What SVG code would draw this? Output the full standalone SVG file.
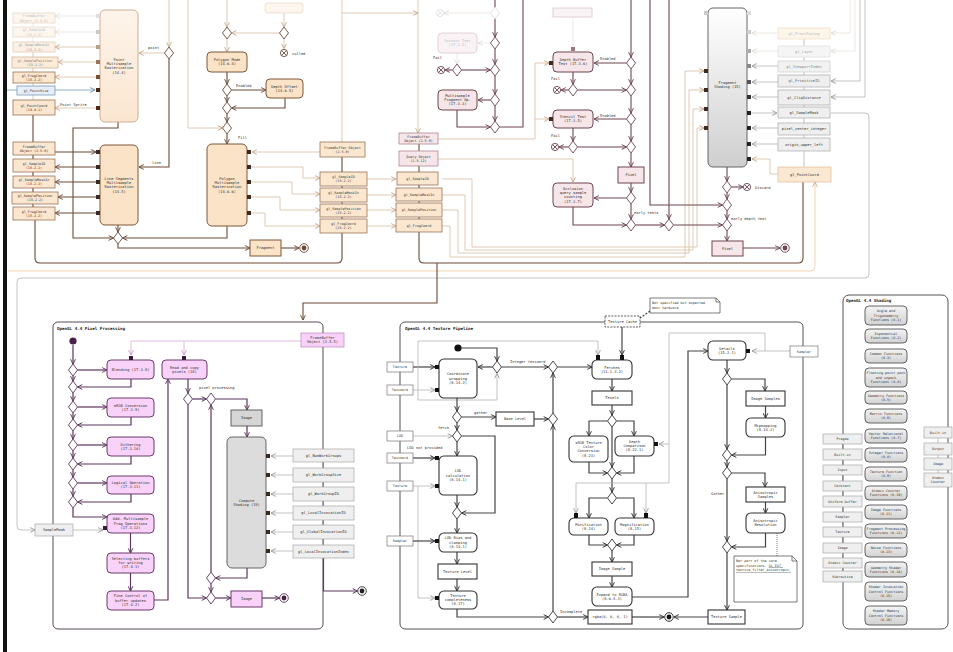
<svg xmlns="http://www.w3.org/2000/svg" width="953" height="652" viewBox="0 0 953 652">
<style>
text{font-family:"DejaVu Sans Mono","Liberation Mono",monospace;font-size:3.7px;fill:#333}
.c{text-anchor:middle}
.t{font-weight:bold;font-size:4.2px;fill:#222}
.s{font-size:3.4px}
.fd{fill:#bbb}
.ob{fill:#fbe7d0;stroke:#9c7455;stroke-width:.8}
.oa{fill:#fbe3c8;stroke:#7e5638;stroke-width:1}
.of{fill:#fdf6ee;stroke:#e6d5c4;stroke-width:.7}
.pb{fill:#f6e6ea;stroke:#6e4550;stroke-width:1}
.pf{fill:#faf3f5;stroke:#dcc6cc;stroke-width:.8}
.vb{fill:#f8d2f8;stroke:#6a3d6a;stroke-width:1}
.kb{fill:#fff;stroke:#333;stroke-width:1.1}
.gb{fill:#efefef;stroke:#a8a8a8;stroke-width:.7}
.sb{fill:url(#gs);stroke:#555;stroke-width:.9}
.bb{fill:#e6eef7;stroke:#7a9ab8;stroke-width:.8}
.br{fill:none;stroke:#6b4a36;stroke-width:1.1}
.lt{fill:none;stroke:#d6bca2;stroke-width:.8}
.ft{fill:none;stroke:#e8ddd2;stroke-width:.7}
.pk{fill:none;stroke:#6e4550;stroke-width:1.1}
.vi{fill:none;stroke:#5c365c;stroke-width:1.2}
.lp{fill:none;stroke:#d8aad8;stroke-width:.8}
.bk{fill:none;stroke:#444;stroke-width:1.2}
.gy{fill:none;stroke:#b4b4b4;stroke-width:.8}
.bl{fill:none;stroke:#7a9ab8;stroke-width:.8}
.pin{fill:#3a2a22}
.dbr{fill:#fff;stroke:#6b4a36;stroke-width:.9}
.dpk{fill:#fff;stroke:#6e4550;stroke-width:.9}
.dvi{fill:#fff;stroke:#5c365c;stroke-width:.9}
.dbk{fill:#fff;stroke:#333;stroke-width:.9}
.dft{fill:#fff;stroke:#ddd;stroke-width:.8}
</style>
<defs>
<linearGradient id="gs" x1="0" y1="0" x2="0" y2="1"><stop offset="0" stop-color="#f4f4f4"/><stop offset="1" stop-color="#d2d2d2"/></linearGradient>
<linearGradient id="gf" x1="0" y1="0" x2="0" y2="1"><stop offset="0" stop-color="#ffffff"/><stop offset="1" stop-color="#cfcfcf"/></linearGradient>
<linearGradient id="gp" x1="0" y1="0" x2="0" y2="1"><stop offset="0" stop-color="#fdf4ea"/><stop offset="1" stop-color="#fbe6d0"/></linearGradient>
<marker id="m-br" viewBox="0 0 10 10" refX="9" refY="5" markerWidth="6" markerHeight="6" markerUnits="userSpaceOnUse" orient="auto"><path d="M1,1 L9,5 L1,9" fill="none" stroke="#6b4a36" stroke-width="1.6"/></marker>
<marker id="m-lt" viewBox="0 0 10 10" refX="9" refY="5" markerWidth="6" markerHeight="6" markerUnits="userSpaceOnUse" orient="auto"><path d="M1,1 L9,5 L1,9" fill="none" stroke="#c4a688" stroke-width="1.5"/></marker>
<marker id="m-ft" viewBox="0 0 10 10" refX="9" refY="5" markerWidth="6" markerHeight="6" markerUnits="userSpaceOnUse" orient="auto"><path d="M1,1 L9,5 L1,9" fill="none" stroke="#ddd" stroke-width="1.5"/></marker>
<marker id="m-pk" viewBox="0 0 10 10" refX="9" refY="5" markerWidth="6" markerHeight="6" markerUnits="userSpaceOnUse" orient="auto"><path d="M1,1 L9,5 L1,9" fill="none" stroke="#6e4550" stroke-width="1.6"/></marker>
<marker id="m-vi" viewBox="0 0 10 10" refX="9" refY="5" markerWidth="6" markerHeight="6" markerUnits="userSpaceOnUse" orient="auto"><path d="M1,1 L9,5 L1,9" fill="none" stroke="#5c365c" stroke-width="1.6"/></marker>
<marker id="m-lp" viewBox="0 0 10 10" refX="9" refY="5" markerWidth="6" markerHeight="6" markerUnits="userSpaceOnUse" orient="auto"><path d="M1,1 L9,5 L1,9" fill="none" stroke="#c890c8" stroke-width="1.5"/></marker>
<marker id="m-bk" viewBox="0 0 10 10" refX="9" refY="5" markerWidth="6" markerHeight="6" markerUnits="userSpaceOnUse" orient="auto"><path d="M1,1 L9,5 L1,9" fill="none" stroke="#333" stroke-width="1.6"/></marker>
<marker id="m-gy" viewBox="0 0 10 10" refX="9" refY="5" markerWidth="6" markerHeight="6" markerUnits="userSpaceOnUse" orient="auto"><path d="M1,1 L9,5 L1,9" fill="none" stroke="#999" stroke-width="1.5"/></marker>
<marker id="m-bl" viewBox="0 0 10 10" refX="9" refY="5" markerWidth="6" markerHeight="6" markerUnits="userSpaceOnUse" orient="auto"><path d="M1,1 L9,5 L1,9" fill="none" stroke="#6a8aa8" stroke-width="1.5"/></marker>
<path id="dm" d="M0,-6 L4.5,0 L0,6 L-4.5,0Z"/>
<g id="xn"><circle r="3.6" fill="#fff"/><path d="M-2.5,-2.5 L2.5,2.5 M2.5,-2.5 L-2.5,2.5"/></g>
<g id="fn"><circle r="4.3" fill="#fff"/><circle r="2.4" stroke="none"/></g>
</defs>
<rect x="0" y="0" width="953" height="652" fill="#fff"/>
<rect x="3" y="0" width="4" height="652" fill="#111"/>

<g id="connectors">
<!-- frame lines -->
<path class="gy" d="M831,113 H865 Q869,113 869,117 V274 Q869,278 865,278 H21 Q17,278 17,282 V526 Q17,530 21,530 H35" marker-end="url(#m-gy)"/>
<path fill="none" stroke="#f0c9a0" stroke-width=".8" d="M8,271 H811 Q815,271 815,267 V182" marker-end="url(#m-lt)"/>
<!-- top-left -->
<path class="ft" d="M96,16 H55" marker-end="url(#m-ft)"/>
<path class="ft" d="M96,32 H55" marker-end="url(#m-ft)"/>
<path class="lt" d="M96,47 H55" marker-end="url(#m-lt)"/>
<path class="lt" d="M96,62 H58" marker-end="url(#m-lt)"/>
<path class="lt" d="M96,77 H55" marker-end="url(#m-lt)"/>
<path class="bl" d="M55,90 H95" marker-end="url(#m-bl)"/>
<path class="bl" d="M7,90 H17"/>
<path class="lt" d="M96,108 H55" marker-end="url(#m-lt)"/>
<path class="ft" d="M33,23 V27 M33,37 V42"/>
<path class="lt" d="M33,52 V57 M33,68 V72 M33,83 V86 M33,95 V100"/>
<path class="br" d="M33,115 V142 M33,155 V159 M33,172 V176 M33,188 V192 M33,204 V207"/>
<path class="lt" d="M169,0 V47" marker-end="url(#m-lt)"/>
<path class="lt" d="M164.5,53 H139" marker-end="url(#m-lt)"/>
<path class="br" d="M169,59 V167 H139" marker-end="url(#m-br)"/>
<path class="br" d="M118,122 V128 H73 V238 H113.5" marker-end="url(#m-br)"/>
<path class="br" d="M118,225 V232" marker-end="url(#m-br)"/>
<path class="br" d="M227,226 V238 H122.5" marker-end="url(#m-br)"/>
<path class="br" d="M118,244 V248 H250" marker-end="url(#m-br)"/>
<path class="br" d="M281,248 H299" marker-end="url(#m-br)"/>
<path class="br" d="M55,152 H96" marker-end="url(#m-br)"/>
<path class="br" d="M96,167 H55" marker-end="url(#m-br)"/>
<path class="br" d="M96,182 H55" marker-end="url(#m-br)"/>
<path class="br" d="M96,197 H58" marker-end="url(#m-br)"/>
<path class="br" d="M96,213 H55" marker-end="url(#m-br)"/>
<path class="br" d="M35,220 V258 Q35,263 40,263 H337 Q342,263 342,258 V233"/>
<path class="br" d="M342,157 V172 M342,186 V188 M342,202 V204 M342,217 V219"/>
<!-- polygon -->
<path class="lt" d="M227,0 V27" marker-end="url(#m-lt)"/>
<path class="lt" d="M227,39 V52" marker-end="url(#m-lt)"/>
<path class="lt" d="M284,13 V27" marker-end="url(#m-lt)"/>
<path class="lt" d="M279.5,33 H231.5" marker-end="url(#m-lt)"/>
<path class="lt" d="M284,39 V48.5" marker-end="url(#m-lt)"/>
<path class="br" d="M227,72 V84" marker-end="url(#m-br)"/>
<path class="br" d="M231.5,90 H266" marker-end="url(#m-br)"/>
<path class="br" d="M227,96 V102" marker-end="url(#m-br)"/>
<path class="br" d="M285,98 V108 H231.5" marker-end="url(#m-br)"/>
<path class="br" d="M227,114 V122" marker-end="url(#m-br)"/>
<path class="lt" d="M188,0 V128 H222.5" marker-end="url(#m-lt)"/>
<path class="br" d="M227,134 V144" marker-end="url(#m-br)"/>
<path class="lt" d="M320,152 H252" marker-end="url(#m-lt)"/>
<path class="lt" d="M251,167 H303 V178 H320" marker-end="url(#m-lt)"/>
<path class="lt" d="M251,182 H292 V194 H320" marker-end="url(#m-lt)"/>
<path class="lt" d="M251,197 H280 V210 H320" marker-end="url(#m-lt)"/>
<path class="lt" d="M251,213 H265 V226 H320" marker-end="url(#m-lt)"/>
<!-- middle columns -->
<path class="lt" d="M342,0 V142"/>
<path class="lt" d="M342,13 H418" marker-end="url(#m-lt)"/>
<path class="lt" d="M418,0 V133" marker-end="url(#m-lt)"/>
<path class="lt" d="M367,179 H396" marker-end="url(#m-lt)"/>
<path class="lt" d="M367,195 H396" marker-end="url(#m-lt)"/>
<path class="lt" d="M367,210 H396" marker-end="url(#m-lt)"/>
<path class="lt" d="M367,226 H396" marker-end="url(#m-lt)"/>
<path class="br" d="M419,144 V151 M419,166 V172 M419,185 V188 M419,201 V203 M419,217 V219"/>
<path class="br" d="M419,232 V258 Q419,263 424,263 H798 Q803,263 803,258 V182"/>
<path class="br" d="M437,263 V303 H303 V320" marker-end="url(#m-br)"/>
<path class="lt" d="M442,179 H472 V247 H697 V128 H704" marker-end="url(#m-lt)"/>
<path class="lt" d="M442,195 H465 V250 H693 V109 H704" marker-end="url(#m-lt)"/>
<path class="lt" d="M442,210 H458 V253 H689 V90 H704" marker-end="url(#m-lt)"/>
<path class="lt" d="M442,226 H450 V257 H685 V71 H704" marker-end="url(#m-lt)"/>
<!-- tests -->
<path class="ft" d="M490.5,13 H444" marker-end="url(#m-ft)"/>
<path class="pk" d="M495,0 V37" marker-end="url(#m-pk)"/>
<path class="pk" d="M495,49 V64" marker-end="url(#m-pk)"/>
<path class="pk" d="M495,76 V94" marker-end="url(#m-pk)"/>
<path class="pk" d="M495,106 V121" marker-end="url(#m-pk)"/>
<path class="ft" d="M490.5,43 H478" marker-end="url(#m-ft)"/>
<path class="ft" d="M457,53 V64" marker-end="url(#m-ft)"/>
<path class="pk" d="M452.5,70 H445" marker-end="url(#m-pk)"/>
<path class="pk" d="M461.5,70 H490.5" marker-end="url(#m-pk)"/>
<path class="pk" d="M490.5,100 H478" marker-end="url(#m-pk)"/>
<path class="pk" d="M457,110 V127 H490.5" marker-end="url(#m-pk)"/>
<path class="pk" d="M499.5,127 H523 V0"/>
<path class="ft" d="M573,17 V48"/>
<path class="lt" d="M438,139 H535 V63 H549" marker-end="url(#m-lt)"/>
<path class="lt" d="M535,119 H549" marker-end="url(#m-lt)"/>
<path class="lt" d="M438,159 H573 V182" marker-end="url(#m-lt)"/>
<path class="pk" d="M631,0 V57" marker-end="url(#m-pk)"/>
<path class="pk" d="M626.5,63 H594" marker-end="url(#m-pk)"/>
<path class="pk" d="M631,69 V84" marker-end="url(#m-pk)"/>
<path class="pk" d="M573,72 V84" marker-end="url(#m-pk)"/>
<path class="pk" d="M568.5,90 H561" marker-end="url(#m-pk)"/>
<path class="pk" d="M577.5,90 H626.5" marker-end="url(#m-pk)"/>
<path class="pk" d="M631,96 V113" marker-end="url(#m-pk)"/>
<path class="pk" d="M626.5,119 H594" marker-end="url(#m-pk)"/>
<path class="pk" d="M631,125 V141" marker-end="url(#m-pk)"/>
<path class="pk" d="M573,128 V141" marker-end="url(#m-pk)"/>
<path class="pk" d="M568.5,147 H559" marker-end="url(#m-pk)"/>
<path class="pk" d="M577.5,147 H626.5" marker-end="url(#m-pk)"/>
<path class="pk" d="M631,153 V167" marker-end="url(#m-pk)"/>
<path class="pk" d="M631,183 V192" marker-end="url(#m-pk)"/>
<path class="pk" d="M626.5,198 H594" marker-end="url(#m-pk)"/>
<path class="pk" d="M573,207 V225 H626.5" marker-end="url(#m-pk)"/>
<path class="pk" d="M631,204 V219" marker-end="url(#m-pk)"/>
<path class="pk" d="M635.5,225 H664.5" marker-end="url(#m-pk)"/>
<path class="pk" d="M669,0 V219" marker-end="url(#m-pk)"/>
<path class="pk" d="M673.5,225 H722.5" marker-end="url(#m-pk)"/>
<path class="pk" d="M650,0 V205 H722.5" marker-end="url(#m-pk)"/>
<!-- fragment shading -->
<path class="pk" d="M727,167 V181" marker-end="url(#m-pk)"/>
<path class="pk" d="M731.5,187 H743" marker-end="url(#m-pk)"/>
<path class="pk" d="M727,193 V199" marker-end="url(#m-pk)"/>
<path class="pk" d="M727,211 V219" marker-end="url(#m-pk)"/>
<path class="pk" d="M727,231 V241" marker-end="url(#m-pk)"/>
<path class="pk" d="M743,248 H780" marker-end="url(#m-pk)"/>
<path class="ft" d="M778,33 H752" marker-end="url(#m-ft)"/>
<path class="ft" d="M778,51 H752" marker-end="url(#m-ft)"/>
<path class="gy" d="M778,66 H752" marker-end="url(#m-gy)"/>
<path class="gy" d="M778,82 H752" marker-end="url(#m-gy)"/>
<path class="gy" d="M778,97 H752" marker-end="url(#m-gy)"/>
<path class="gy" d="M751,113 H777" marker-end="url(#m-gy)"/>
<path class="gy" d="M778,128 H752" marker-end="url(#m-gy)"/>
<path class="gy" d="M778,144 H752" marker-end="url(#m-gy)"/>
<path class="lt" d="M778,174 H770 V159 H752" marker-end="url(#m-lt)"/>
<path class="ft" d="M850,0 V33 H831" marker-end="url(#m-ft)"/>
<path class="ft" d="M855,0 V51 H831" marker-end="url(#m-ft)"/>
<path class="gy" d="M860,0 V81 H831" marker-end="url(#m-gy)"/>
<path class="gy" d="M865,0 V97 H831" marker-end="url(#m-gy)"/>
<path class="gy" d="M804,39 V46 M804,57 V61 M804,72 V75 M804,87 V90 M804,105 V107 M804,118 V123 M804,135 V138 M804,151 V167"/>
<!-- pixel processing -->
<path class="vi" d="M73,345 V364" marker-end="url(#m-vi)"/>
<path class="vi" d="M77.5,370 H107" marker-end="url(#m-vi)"/>
<path class="vi" d="M73,376 V381" marker-end="url(#m-vi)"/>
<path class="vi" d="M131,379 V387 H77.5" marker-end="url(#m-vi)"/>
<path class="vi" d="M73,393 V401" marker-end="url(#m-vi)"/>
<path class="vi" d="M77.5,407 H107" marker-end="url(#m-vi)"/>
<path class="vi" d="M73,413 V419" marker-end="url(#m-vi)"/>
<path class="vi" d="M131,417 V425 H77.5" marker-end="url(#m-vi)"/>
<path class="vi" d="M73,431 V439" marker-end="url(#m-vi)"/>
<path class="vi" d="M77.5,445 H107" marker-end="url(#m-vi)"/>
<path class="vi" d="M73,451 V458" marker-end="url(#m-vi)"/>
<path class="vi" d="M131,456 V464 H77.5" marker-end="url(#m-vi)"/>
<path class="vi" d="M73,470 V477" marker-end="url(#m-vi)"/>
<path class="vi" d="M77.5,483 H107" marker-end="url(#m-vi)"/>
<path class="vi" d="M73,489 V496" marker-end="url(#m-vi)"/>
<path class="vi" d="M131,494 V502 H77.5" marker-end="url(#m-vi)"/>
<path class="vi" d="M73,508 V517 H107" marker-end="url(#m-vi)"/>
<path class="vi" d="M130.5,533 V553" marker-end="url(#m-vi)"/>
<path class="vi" d="M130.5,573 V591" marker-end="url(#m-vi)"/>
<path class="vi" d="M154,600 H168 V379" marker-end="url(#m-vi)"/>
<path class="lp" d="M301,341 H131 V355" marker-end="url(#m-lp)"/>
<path class="lp" d="M184,341 V355" marker-end="url(#m-lp)"/>
<path class="gy" d="M73,530 H103" marker-end="url(#m-gy)"/>
<path class="vi" d="M188,379 V393" marker-end="url(#m-vi)"/>
<path class="vi" d="M192.5,399 H206.5" marker-end="url(#m-vi)"/>
<path class="vi" d="M215.5,399 H247 V410" marker-end="url(#m-vi)"/>
<path class="vi" d="M247,426 V437" marker-end="url(#m-vi)"/>
<path class="vi" d="M247,568 V578 H215.5" marker-end="url(#m-vi)"/>
<path class="vi" d="M211,572 V405" marker-end="url(#m-vi)"/>
<path class="vi" d="M211,584 V592" marker-end="url(#m-vi)"/>
<path class="vi" d="M188,405 V598 H206.5" marker-end="url(#m-vi)"/>
<path class="vi" d="M215.5,598 H231" marker-end="url(#m-vi)"/>
<path class="vi" d="M262,598 H279.5" marker-end="url(#m-vi)"/>
<path class="gy" d="M293,456 H271" marker-end="url(#m-gy)"/>
<path class="gy" d="M293,475 H271" marker-end="url(#m-gy)"/>
<path class="gy" d="M293,494 H271" marker-end="url(#m-gy)"/>
<path class="gy" d="M293,513 H271" marker-end="url(#m-gy)"/>
<path class="gy" d="M293,532 H271" marker-end="url(#m-gy)"/>
<path class="gy" d="M293,551 H271" marker-end="url(#m-gy)"/>
<path class="gy" d="M323.5,462 V468 M323.5,482 V487 M323.5,501 V506 M323.5,520 V525 M323.5,539 V545"/>
<path class="vi" d="M323.5,558 V591 H357.5" marker-end="url(#m-vi)"/>
<!-- texture pipeline -->
<path class="bk" stroke-dasharray="2,1.5" d="M650,311 L640,318"/>
<path class="bk" d="M461.5,348 H497 V361" marker-end="url(#m-bk)"/>
<path class="bk" d="M492.5,367 H478" marker-end="url(#m-bk)"/>
<path class="bk" d="M501.5,367 H548.5" marker-end="url(#m-bk)"/>
<path class="bk" d="M557.5,367 H592" marker-end="url(#m-bk)"/>
<path class="bk" d="M413,367 H435" marker-end="url(#m-bk)"/>
<path class="gy" d="M413,390 H435" marker-end="url(#m-gy)"/>
<path class="gy" d="M418,367 V341 H598 V355" marker-end="url(#m-gy)"/>
<path class="gy" d="M418,367 V400 H497 V373.5" marker-end="url(#m-gy)"/>
<path class="bk" d="M622,327 V355" marker-end="url(#m-bk)"/>
<path class="bk" d="M457,398 V411" marker-end="url(#m-bk)"/>
<path class="bk" d="M461.5,417 H496" marker-end="url(#m-bk)"/>
<path class="bk" d="M534,419 H548.5" marker-end="url(#m-bk)"/>
<path class="bk" d="M457,423 V430" marker-end="url(#m-bk)"/>
<path class="gy" d="M413,436 H452.5" marker-end="url(#m-gy)"/>
<path class="bk" d="M461.5,436 H495 V513 H461.5" marker-end="url(#m-bk)"/>
<path class="bk" d="M457,442 V456" marker-end="url(#m-bk)"/>
<path class="bk" d="M413,458 H435" marker-end="url(#m-bk)"/>
<path class="gy" d="M413,486 H435" marker-end="url(#m-gy)"/>
<path class="gy" d="M418,486 V598 H435" marker-end="url(#m-gy)"/>
<path class="bk" d="M457,495 V507" marker-end="url(#m-bk)"/>
<path class="bk" d="M457,519 V533" marker-end="url(#m-bk)"/>
<path class="bk" d="M413,541 H435" marker-end="url(#m-bk)"/>
<path class="bk" d="M457,552 V564" marker-end="url(#m-bk)"/>
<path class="bk" d="M457,579 V591" marker-end="url(#m-bk)"/>
<path class="bk" d="M457,609 V617 H548.5" marker-end="url(#m-bk)"/>
<path class="bk" d="M557.5,617 H588" marker-end="url(#m-bk)"/>
<path class="bk" d="M632,617 H664" marker-end="url(#m-bk)"/>
<path class="bk" d="M553,611 V425" marker-end="url(#m-bk)"/>
<path class="bk" d="M553,413 V373" marker-end="url(#m-bk)"/>
<path class="bk" d="M612,379 V391" marker-end="url(#m-bk)"/>
<path class="bk" d="M612,405 V415" marker-end="url(#m-bk)"/>
<path class="bk" d="M607.5,421 H589 V436" marker-end="url(#m-bk)"/>
<path class="bk" d="M616.5,421 H634 V436" marker-end="url(#m-bk)"/>
<path class="bk" d="M612,427 V467" marker-end="url(#m-bk)"/>
<path class="bk" d="M589,462 V473 H607.5" marker-end="url(#m-bk)"/>
<path class="bk" d="M634,456 V473 H616.5" marker-end="url(#m-bk)"/>
<path class="bk" d="M612,479 V492" marker-end="url(#m-bk)"/>
<path class="bk" d="M607.5,498 H589 V518" marker-end="url(#m-bk)"/>
<path class="bk" d="M616.5,498 H634 V518" marker-end="url(#m-bk)"/>
<path class="bk" d="M589,535 V545 H607.5" marker-end="url(#m-bk)"/>
<path class="bk" d="M634,535 V545 H616.5" marker-end="url(#m-bk)"/>
<path class="bk" d="M612,551 V562" marker-end="url(#m-bk)"/>
<path class="bk" d="M612,576 V587" marker-end="url(#m-bk)"/>
<path class="bk" d="M632,597 H688 V351 H708" marker-end="url(#m-bk)"/>
<path class="gy" d="M790,351 H752" marker-end="url(#m-gy)"/>
<path class="gy" d="M765,351 V333 H669 V483 H576 V513" marker-end="url(#m-gy)"/>
<path class="gy" d="M646,483 V513" marker-end="url(#m-gy)"/>
<path class="gy" d="M669,444 H659" marker-end="url(#m-gy)"/>
<path class="bk" d="M727,360 V373" marker-end="url(#m-bk)"/>
<path class="bk" d="M731.5,379 H765 V391" marker-end="url(#m-bk)"/>
<path class="bk" d="M765.5,406 V418" marker-end="url(#m-bk)"/>
<path class="bk" d="M765.5,437 V455 H731.5" marker-end="url(#m-bk)"/>
<path class="bk" d="M727,385 V449" marker-end="url(#m-bk)"/>
<path class="bk" d="M727,461 V467" marker-end="url(#m-bk)"/>
<path class="bk" d="M731.5,473 H765 V487" marker-end="url(#m-bk)"/>
<path class="bk" d="M765.5,502 V513" marker-end="url(#m-bk)"/>
<path class="bk" d="M765.5,533 V547 H731.5" marker-end="url(#m-bk)"/>
<path class="bk" d="M727,479 V541" marker-end="url(#m-bk)"/>
<path class="bk" d="M727,553 V610" marker-end="url(#m-bk)"/>
<path class="bk" d="M708,617 H674" marker-end="url(#m-bk)"/>
<path fill="none" stroke="#666" stroke-width=".8" stroke-dasharray="1,1" d="M777,533 V556"/>
<!-- shading -->
<path class="gy" d="M842.5,444 V449 M842.5,460 V465 M842.5,475 V481 M842.5,491 V496 M842.5,507 V512 M842.5,522 V527 M842.5,537 V543 M842.5,553 V558 M842.5,568 V571"/>
<path class="gy" d="M938,438 V443 M938,455 V458 M938,470 V473"/>
</g>

<!-- diamonds and control nodes -->
<g id="control-nodes">
<use href="#dm" x="169" y="53" class="dbr"/>
<use href="#dm" x="118" y="238" class="dbr"/>
<use href="#dm" x="227" y="33" class="dbr"/>
<use href="#dm" x="284" y="33" class="dbr"/>
<use href="#dm" x="227" y="90" class="dbr"/>
<use href="#dm" x="227" y="108" class="dbr"/>
<use href="#dm" x="227" y="128" class="dbr"/>
<use href="#xn" x="284" y="53" class="dbr"/>
<use href="#fn" x="304" y="248" fill="#6b4a36" stroke="#6b4a36" stroke-width=".9"/>
<use href="#dm" x="495" y="13" class="dft"/>
<use href="#xn" x="440" y="13" class="dft"/>
<use href="#dm" x="495" y="43" class="dpk"/>
<use href="#dm" x="495" y="70" class="dpk"/>
<use href="#dm" x="495" y="100" class="dpk"/>
<use href="#dm" x="495" y="127" class="dpk"/>
<use href="#dm" x="457" y="70" class="dpk"/>
<use href="#xn" x="441" y="70" class="dpk"/>
<use href="#dm" x="631" y="63" class="dpk"/>
<use href="#dm" x="631" y="90" class="dpk"/>
<use href="#dm" x="631" y="119" class="dpk"/>
<use href="#dm" x="631" y="147" class="dpk"/>
<use href="#dm" x="573" y="90" class="dpk"/>
<use href="#xn" x="557" y="90" class="dpk"/>
<use href="#dm" x="573" y="147" class="dpk"/>
<use href="#xn" x="555" y="147" class="dpk"/>
<use href="#dm" x="631" y="198" class="dpk"/>
<use href="#dm" x="631" y="225" class="dpk"/>
<use href="#dm" x="669" y="225" class="dpk"/>
<use href="#dm" x="727" y="187" class="dpk"/>
<use href="#dm" x="727" y="205" class="dpk"/>
<use href="#dm" x="727" y="225" class="dpk"/>
<use href="#xn" x="747" y="187" class="dpk"/>
<use href="#fn" x="785" y="248" fill="#6e4550" stroke="#6e4550" stroke-width=".9"/>
<circle cx="73" cy="341" r="3.6" fill="#4a1f4a"/>
<use href="#dm" x="73" y="370" class="dvi"/>
<use href="#dm" x="73" y="387" class="dvi"/>
<use href="#dm" x="73" y="407" class="dvi"/>
<use href="#dm" x="73" y="425" class="dvi"/>
<use href="#dm" x="73" y="445" class="dvi"/>
<use href="#dm" x="73" y="464" class="dvi"/>
<use href="#dm" x="73" y="483" class="dvi"/>
<use href="#dm" x="73" y="502" class="dvi"/>
<use href="#dm" x="188" y="399" class="dvi"/>
<use href="#dm" x="211" y="399" class="dvi"/>
<use href="#dm" x="211" y="578" class="dvi"/>
<use href="#dm" x="211" y="598" class="dvi"/>
<use href="#fn" x="284" y="598" fill="#4a1f4a" stroke="#5c365c" stroke-width=".9"/>
<use href="#fn" x="362" y="591" fill="#222" stroke="#333" stroke-width=".9"/>
<circle cx="458" cy="348" r="3.6" fill="#111"/>
<use href="#dm" x="497" y="367" class="dbk"/>
<use href="#dm" x="553" y="367" class="dbk"/>
<use href="#dm" x="553" y="419" class="dbk"/>
<use href="#dm" x="553" y="617" class="dbk"/>
<use href="#dm" x="457" y="417" class="dbk"/>
<use href="#dm" x="457" y="436" class="dbk"/>
<use href="#dm" x="457" y="513" class="dbk"/>
<use href="#dm" x="612" y="421" class="dbk"/>
<use href="#dm" x="612" y="473" class="dbk"/>
<use href="#dm" x="612" y="498" class="dbk"/>
<use href="#dm" x="612" y="545" class="dbk"/>
<use href="#dm" x="727" y="379" class="dbk"/>
<use href="#dm" x="727" y="455" class="dbk"/>
<use href="#dm" x="727" y="473" class="dbk"/>
<use href="#dm" x="727" y="547" class="dbk"/>
<use href="#fn" x="669" y="617" fill="#111" stroke="#333" stroke-width="1"/>
</g>

<!-- labels on connectors -->
<g id="edge-labels">
<text x="60" y="106">Point Sprite</text>
<text x="148" y="49">point</text>
<text x="152" y="164">line</text>
<text x="292" y="55">culled</text>
<text x="236" y="87">Enabled</text>
<text x="238" y="139">Fill</text>
<text x="433" y="59">Fail</text>
<text x="551" y="80">Fail</text>
<text x="551" y="137">Fail</text>
<text x="600" y="60">Enabled</text>
<text x="600" y="117">Enabled</text>
<text x="634" y="214">early tests</text>
<text x="731" y="220">early depth test</text>
<text x="755" y="189">Discard</text>
<text x="199" y="389">pixel processing</text>
<text x="510" y="363">Integer texcoord</text>
<text x="474" y="414">gather</text>
<text x="438" y="429">fetch</text>
<text x="407" y="449">LOD not provided</text>
<text x="560" y="613">Incomplete</text>
<text x="711" y="495">Gather</text>
</g>

<!-- TOP: rasterization -->
<g id="tl-fbo"><rect class="of" x="13" y="13" width="42" height="10"/><text class="c s fd" x="34" y="17.3">FrameBuffer</text><text class="c s fd" x="34" y="21.5">Object (2.5.6)</text></g>
<g id="tl-sid"><rect class="of" x="13" y="27" width="42" height="10"/><text class="c s" fill="#bbb" x="34" y="31.3" style="fill:#bbb">gl_SampleID</text><text class="c s" x="34" y="35.5" style="fill:#bbb">(15.2.2)</text></g>
<g id="tl-smi"><rect class="ob" style="fill:#fcf1e4;stroke:#e0ccb8" x="13" y="42" width="42" height="10"/><text class="c s" x="34" y="46.3" style="fill:#999">gl_SampleMaskIn</text><text class="c s" x="34" y="50.5" style="fill:#999">(15.2.2)</text></g>
<g id="tl-spo"><rect class="ob" style="fill:#fbecd9;stroke:#d2b598" x="12" y="57" width="46" height="11"/><text class="c s" x="35" y="61.8" style="fill:#777">gl_SamplePosition</text><text class="c s" x="35" y="66" style="fill:#777">(15.2.2)</text></g>
<g id="tl-frc"><rect class="ob" x="13" y="72" width="42" height="11"/><text class="c s" x="34" y="76.8">gl_FragCoord</text><text class="c s" x="34" y="81">(15.2.2)</text></g>
<g id="tl-psz"><rect class="bb" x="17" y="86" width="38" height="9"/><text class="c s" x="36" y="91.8">gl_PointSize</text></g>
<g id="tl-pco"><rect class="ob" x="13" y="100" width="42" height="15"/><text class="c s" x="34" y="106.7">gl_PointCoord</text><text class="c s" x="34" y="110.9">(14.4.1)</text></g>
<g id="n-point"><rect x="100" y="10" width="38" height="112" rx="5" style="fill:url(#gp);stroke:#c8a58a;stroke-width:.9"/><text class="c" x="119" y="60.6">Point</text><text class="c" x="119" y="64.9">Multisample</text><text class="c" x="119" y="69.2">Rasterization</text><text class="c" x="119" y="73.5">(14.4)</text>
<rect x="96" y="14" width="4" height="4" fill="#ddd"/><rect x="96" y="30" width="4" height="4" fill="#cfc6bd"/><rect x="96" y="45" width="4" height="4" fill="#b8a08c"/><rect x="96" y="60" width="4" height="4" fill="#9a7458"/><rect x="96" y="75" width="4" height="4" fill="#7a4f30"/><rect x="96" y="88" width="4" height="4" fill="#4a2a14"/><rect x="96" y="106" width="4" height="4" fill="#4a2a14"/></g>

<g id="l-fbo"><rect class="ob" x="13" y="142" width="42" height="13"/><text class="c s" x="34" y="147.7">FrameBuffer</text><text class="c s" x="34" y="151.9">Object (2.5.6)</text></g>
<g id="l-sid"><rect class="ob" x="13" y="159" width="42" height="13"/><text class="c s" x="34" y="164.7">gl_SampleID</text><text class="c s" x="34" y="168.9">(15.2.2)</text></g>
<g id="l-smi"><rect class="ob" x="13" y="176" width="42" height="12"/><text class="c s" x="34" y="181.2">gl_SampleMaskIn</text><text class="c s" x="34" y="185.4">(15.2.2)</text></g>
<g id="l-spo"><rect class="ob" x="12" y="192" width="46" height="12"/><text class="c s" x="35" y="197.2">gl_SamplePosition</text><text class="c s" x="35" y="201.4">(15.2.2)</text></g>
<g id="l-frc"><rect class="ob" x="13" y="207" width="42" height="13"/><text class="c s" x="34" y="212.7">gl_FragCoord</text><text class="c s" x="34" y="216.9">(15.2.2)</text></g>
<g id="n-line"><rect class="oa" x="100" y="145" width="38" height="80" rx="5"/><text class="c" x="119" y="179.6">Line Segments</text><text class="c" x="119" y="183.9">Multisample</text><text class="c" x="119" y="188.2">Rasterization</text><text class="c" x="119" y="192.5">(14.5)</text>
<rect class="pin" x="96" y="150" width="4" height="4"/><rect class="pin" x="96" y="165" width="4" height="4"/><rect class="pin" x="96" y="180" width="4" height="4"/><rect class="pin" x="96" y="195" width="4" height="4"/><rect class="pin" x="96" y="211" width="4" height="4"/></g>
<g id="n-polymode"><rect class="oa" x="207" y="52" width="40" height="20" rx="4"/><text class="c" x="227" y="61.1">Polygon Mode</text><text class="c" x="227" y="65.4">(14.6.4)</text></g>
<g id="n-depthoff"><rect class="oa" x="266" y="79" width="37" height="19" rx="4"/><text class="c" x="284.5" y="87.6">Depth Offset</text><text class="c" x="284.5" y="91.9">(14.6.5)</text></g>
<g id="n-top-faint"><rect class="of" x="265" y="3" width="38" height="10" rx="3"/></g>
<g id="n-poly"><rect class="oa" x="207" y="144" width="40" height="82" rx="5"/><text class="c" x="227" y="179.6">Polygon</text><text class="c" x="227" y="183.9">Multisample</text><text class="c" x="227" y="188.2">Rasterization</text><text class="c" x="227" y="192.5">(14.6.6)</text>
<rect class="pin" x="247" y="150" width="4" height="4"/><rect class="pin" x="247" y="165" width="4" height="4"/><rect class="pin" x="247" y="180" width="4" height="4"/><rect class="pin" x="247" y="195" width="4" height="4"/><rect class="pin" x="247" y="211" width="4" height="4"/></g>
<g id="n-fragment"><rect class="oa" x="250" y="240" width="31" height="16"/><text class="c" x="265.5" y="249.4">Fragment</text></g>

<g id="m-fbo"><rect class="ob" x="320" y="142" width="45" height="15"/><text class="c s" x="342.5" y="148.7">FrameBuffer Object</text><text class="c s" x="342.5" y="152.9">(2.5.9)</text></g>
<g id="m-sid"><rect class="ob" x="320" y="172" width="47" height="14"/><text class="c s" x="343.5" y="178.2">gl_SampleID</text><text class="c s" x="343.5" y="182.4">(15.2.2)</text></g>
<g id="m-smi"><rect class="ob" x="320" y="188" width="47" height="14"/><text class="c s" x="343.5" y="194.2">gl_SampleMaskIn</text><text class="c s" x="343.5" y="198.4">(15.2.2)</text></g>
<g id="m-spo"><rect class="ob" x="320" y="204" width="47" height="13"/><text class="c s" x="343.5" y="209.7">gl_SamplePosition</text><text class="c s" x="343.5" y="213.9">(15.2.2)</text></g>
<g id="m-frc"><rect class="ob" x="320" y="219" width="47" height="14"/><text class="c s" x="343.5" y="225.2">gl_FragCoord</text><text class="c s" x="343.5" y="229.4">(15.2.2)</text></g>

<g id="r-fbo"><rect class="pb" style="stroke:#b08890;stroke-width:.8" x="399" y="133" width="39" height="11"/><text class="c s" x="418.5" y="137.7">FrameBuffer</text><text class="c s" x="418.5" y="141.9">Object (2.5.9)</text></g>
<g id="r-query"><rect class="pb" style="stroke:#b08890;stroke-width:.8" x="399" y="151" width="39" height="15"/><text class="c s" x="418.5" y="157.7">Query Object</text><text class="c s" x="418.5" y="161.9">(2.5.12)</text></g>
<g id="r-sid"><rect class="ob" x="397" y="172" width="41" height="13"/><text class="c s" x="417.5" y="179.7">gl_SampleID</text></g>
<g id="r-smi"><rect class="ob" x="396" y="188" width="46" height="13"/><text class="c s" x="419" y="195.7">gl_SampleMaskIn</text></g>
<g id="r-spo"><rect class="ob" x="396" y="203" width="46" height="14"/><text class="c s" x="419" y="211.2">gl_SamplePosition</text></g>
<g id="r-frc"><rect class="ob" x="396" y="219" width="46" height="13"/><text class="c s" x="419" y="226.7">gl_FragCoord</text></g>

<!-- TOP: fragment tests -->
<g id="n-scissor"><rect class="pf" x="438" y="33" width="39" height="20" rx="4"/><text class="c fd" x="457.5" y="42.1">Scissor Test</text><text class="c fd" x="457.5" y="46.4">(17.3.2)</text></g>
<g id="n-msfrag"><rect class="pb" x="438" y="90" width="39" height="20" rx="4"/><text class="c" x="457.5" y="96.8">Multisample</text><text class="c" x="457.5" y="101.1">Fragment Op.</text><text class="c" x="457.5" y="105.4">(17.3.3)</text></g>
<g id="n-top-faint2"><rect class="pf" x="553" y="8" width="39" height="9"/></g>
<g id="n-depth"><rect class="pb" x="553" y="52" width="40" height="20" rx="4"/><text class="c" x="573" y="61.1">Depth Buffer</text><text class="c" x="573" y="65.4">Test (17.3.6)</text><rect x="571" y="47" width="4" height="4" fill="#9a7a80"/><rect class="pin" x="549" y="61" width="4" height="4"/></g>
<g id="n-stencil"><rect class="pb" x="553" y="110" width="40" height="18" rx="4"/><text class="c" x="573" y="118.1">Stencil Test</text><text class="c" x="573" y="122.4">(17.3.5)</text><rect class="pin" x="549" y="117" width="4" height="4"/></g>
<g id="n-pixel1"><rect class="pb" x="618" y="167" width="26" height="16"/><text class="c" x="631" y="176.4">Pixel</text></g>
<g id="n-occl"><rect class="pb" x="553" y="183" width="40" height="24" rx="4"/><text class="c" x="573" y="189.6">Occlusion</text><text class="c" x="573" y="193.9">query sample</text><text class="c" x="573" y="198.2">counting</text><text class="c" x="573" y="202.5">(17.3.7)</text></g>
<g id="n-fshade"><rect x="708" y="8" width="39" height="159" rx="5" style="fill:url(#gf);stroke:#555;stroke-width:.9"/><text class="c" x="727.5" y="84.1">Fragment</text><text class="c" x="727.5" y="88.4">Shading (15)</text>
<rect x="704" y="11" width="4" height="4" fill="#ccc"/><rect class="pin" x="704" y="69" width="4" height="4"/><rect class="pin" x="704" y="88" width="4" height="4"/><rect class="pin" x="704" y="107" width="4" height="4"/><rect class="pin" x="704" y="126" width="4" height="4"/>
<rect x="747" y="11" width="4" height="4" fill="#ddd"/><rect x="747" y="30" width="4" height="4" fill="#ccc"/><rect x="747" y="49" width="4" height="4" fill="#aaa"/><rect x="747" y="64" width="4" height="4" fill="#888"/><rect x="747" y="80" width="4" height="4" fill="#555"/><rect x="747" y="95" width="4" height="4" fill="#333"/><rect x="747" y="111" width="4" height="4" fill="#222"/><rect x="747" y="126" width="4" height="4" fill="#222"/><rect x="747" y="142" width="4" height="4" fill="#222"/><rect x="747" y="157" width="4" height="4" fill="#222"/></g>
<g id="n-pixel2"><rect class="pb" x="712" y="241" width="31" height="15"/><text class="c" x="727.5" y="249.9">Pixel</text></g>
<g id="f-frontfacing"><rect x="778" y="28" width="52" height="11" style="fill:#fdf4ea;stroke:#f0dcc5;stroke-width:.7"/><text class="c" x="804" y="34.9" style="fill:#bbb">gl_FrontFacing</text></g>
<g id="f-layer"><rect x="778" y="46" width="52" height="11" style="fill:#f5f5f5;stroke:#ddd;stroke-width:.7"/><text class="c" x="804" y="52.9" style="fill:#aaa">gl_Layer</text></g>
<g id="f-viewport"><rect x="778" y="61" width="52" height="11" style="fill:#f2f2f2;stroke:#ccc;stroke-width:.7"/><text class="c" x="804" y="67.9" style="fill:#888">gl_ViewportIndex</text></g>
<g id="f-primid"><rect class="gb" x="778" y="75" width="52" height="12"/><text class="c" x="804" y="82.4" style="fill:#666">gl_PrimitiveID</text></g>
<g id="f-clip"><rect class="gb" x="778" y="90" width="52" height="15"/><text class="c" x="804" y="98.9" style="fill:#444">gl_ClipDistance</text></g>
<g id="f-smask"><rect class="gb" x="778" y="107" width="52" height="11"/><text class="c" x="804" y="113.9">gl_SampleMask</text></g>
<g id="f-pci"><rect class="gb" x="778" y="123" width="52" height="12"/><text class="c" x="804" y="130.4">pixel_center_integer</text></g>
<g id="f-oul"><rect class="gb" x="778" y="138" width="52" height="13"/><text class="c" x="804" y="145.9">origin_upper_left</text></g>
<g id="f-pcoord"><rect x="778" y="167" width="53" height="15" style="fill:#fbe8d2;stroke:#e0c4a4;stroke-width:.8"/><text class="c" x="804.5" y="175.9">gl_PointCoord</text></g>

<!-- PIXEL PROCESSING -->
<g id="p-panel"><rect x="53" y="322" width="270" height="307" rx="5" fill="none" stroke="#5a4a5a" stroke-width="1"/><text class="t" x="57" y="329.5">OpenGL 4.4 Pixel Processing</text></g>
<g id="p-blend"><rect class="vb" x="107" y="360" width="47" height="19" rx="4"/><text class="c" x="130.5" y="370.9">Blending (17.3.8)</text><rect x="129" y="356" width="4" height="4" fill="#3a1a3a"/></g>
<g id="p-srgb"><rect class="vb" x="107" y="398" width="47" height="19" rx="4"/><text class="c" x="130.5" y="406.6">sRGB Conversion</text><text class="c" x="130.5" y="410.9">(17.3.9)</text></g>
<g id="p-dither"><rect class="vb" x="107" y="437" width="47" height="19" rx="4"/><text class="c" x="130.5" y="445.6">Dithering</text><text class="c" x="130.5" y="449.9">(17.3.10)</text></g>
<g id="p-logic"><rect class="vb" x="107" y="476" width="47" height="18" rx="4"/><text class="c" x="130.5" y="484.1">Logical Operation</text><text class="c" x="130.5" y="488.4">(17.3.11)</text></g>
<g id="p-addms"><rect class="vb" x="107" y="514" width="47" height="19" rx="4"/><text class="c" x="130.5" y="520.3">Add. Multisample</text><text class="c" x="130.5" y="524.6">Frag Operations</text><text class="c" x="130.5" y="528.9">(17.3.12)</text><rect x="103" y="526" width="4" height="4" fill="#3a1a3a"/></g>
<g id="p-select"><rect class="vb" x="107" y="553" width="47" height="20" rx="4"/><text class="c" x="130.5" y="559.8">Selecting buffers</text><text class="c" x="130.5" y="564.1">for writing</text><text class="c" x="130.5" y="568.4">(17.4.1)</text></g>
<g id="p-fine"><rect class="vb" x="107" y="591" width="47" height="19" rx="4"/><text class="c" x="130.5" y="597.3">Fine Control of</text><text class="c" x="130.5" y="601.6">buffer updates</text><text class="c" x="130.5" y="605.9">(17.4.2)</text></g>
<g id="p-read"><rect class="vb" x="162" y="360" width="45" height="19" rx="4"/><text class="c" x="184.5" y="368.6">Read and copy</text><text class="c" x="184.5" y="372.9">pixels (18)</text><rect x="182" y="356" width="4" height="4" fill="#3a1a3a"/></g>
<g id="p-fbo"><rect class="vb" style="stroke:#c090c0;stroke-width:.8" x="301" y="333" width="43" height="14"/><text class="c" x="322.5" y="339.1">FrameBuffer</text><text class="c" x="322.5" y="343.4">Object (2.5.5)</text></g>
<g id="p-image1"><rect x="231" y="410" width="31" height="16" style="fill:#d6d6d6;stroke:#555;stroke-width:.9"/><text class="c" x="246.5" y="419.4">Image</text></g>
<g id="p-compute"><rect x="227" y="437" width="39" height="131" rx="5" style="fill:#dcdcdc;stroke:#555;stroke-width:.9"/><text class="c" x="246.5" y="501.6">Compute</text><text class="c" x="246.5" y="505.9">Shading (19)</text>
<rect class="pin" x="266" y="454" width="4" height="4"/><rect class="pin" x="266" y="473" width="4" height="4"/><rect class="pin" x="266" y="492" width="4" height="4"/><rect class="pin" x="266" y="511" width="4" height="4"/><rect class="pin" x="266" y="530" width="4" height="4"/><rect class="pin" x="266" y="549" width="4" height="4"/></g>
<g id="p-nwg"><rect class="gb" x="293" y="449" width="61" height="13"/><text class="c" x="323.5" y="456.9">gl_NumWorkGroups</text></g>
<g id="p-wgs"><rect class="gb" x="293" y="468" width="61" height="14"/><text class="c" x="323.5" y="476.4">gl_WorkGroupSize</text></g>
<g id="p-wgid"><rect class="gb" x="293" y="487" width="61" height="14"/><text class="c" x="323.5" y="495.4">gl_WorkGroupID</text></g>
<g id="p-liid"><rect class="gb" x="293" y="506" width="61" height="14"/><text class="c" x="323.5" y="514.4">gl_LocalInvocationID</text></g>
<g id="p-giid"><rect class="gb" x="293" y="525" width="61" height="14"/><text class="c" x="323.5" y="533.4">gl_GlobalInvocationID</text></g>
<g id="p-liix"><rect class="gb" x="293" y="545" width="61" height="13"/><text class="c" x="323.5" y="552.9">gl_LocalInvocationIndex</text></g>
<g id="p-image2"><rect class="vb" x="231" y="591" width="31" height="16"/><text class="c" x="246.5" y="600.4">Image</text></g>
<g id="p-samplemask"><rect class="gb" x="35" y="524" width="38" height="12"/><text class="c" x="54" y="531.4">SampleMask</text></g>

<!-- TEXTURE PIPELINE -->
<g id="t-panel"><rect x="400" y="322" width="403" height="307" rx="5" fill="none" stroke="#555" stroke-width="1"/><text class="t" x="405" y="329.5">OpenGL 4.4 Texture Pipeline</text></g>
<g id="t-cache"><rect x="605" y="316" width="35" height="11" fill="#fff" stroke="#333" stroke-width=".8" stroke-dasharray="2,1.2"/><text class="c" x="622.5" y="322.9">Texture Cache</text></g>
<g id="t-note1"><path d="M650,298 H716 L720,302 V313 H650Z" fill="#fff" stroke="#444" stroke-width=".7"/><path d="M716,298 V302 H720" fill="none" stroke="#444" stroke-width=".7"/><text class="s" x="652" y="304">Not specified but expected</text><text class="s" x="652" y="309">most hardware</text></g>
<g id="t-coord"><rect class="kb" x="439" y="359" width="38" height="39" rx="5"/><text class="c" x="458" y="375.3">Coordinate</text><text class="c" x="458" y="379.6">wrapping</text><text class="c" x="458" y="383.9">(8.14.2)</text><rect x="435" y="365" width="4" height="4" fill="#111"/><rect x="435" y="388" width="4" height="4" fill="#111"/></g>
<g id="t-in-tex1"><rect class="gb" style="fill:#fff;stroke:#777" x="387" y="362" width="26" height="10"/><text class="c s" x="400" y="368.4">Texture</text></g>
<g id="t-in-tc1"><rect class="gb" style="fill:#fff;stroke:#777" x="387" y="385" width="26" height="10"/><text class="c s" x="400" y="391.4">Texcoord</text></g>
<g id="t-base"><rect class="kb" x="496" y="412" width="38" height="14"/><text class="c" x="515" y="420.4">Base Level</text></g>
<g id="t-in-lod"><rect class="gb" style="fill:#fff;stroke:#777" x="387" y="431" width="26" height="10"/><text class="c s" x="400" y="437.4">LOD</text></g>
<g id="t-lodcalc"><rect class="kb" x="439" y="456" width="38" height="39" rx="5"/><text class="c" x="458" y="472.3">LOD</text><text class="c" x="458" y="476.6">calculation</text><text class="c" x="458" y="480.9">(8.14.1)</text><rect x="435" y="456" width="4" height="4" fill="#111"/><rect x="435" y="484" width="4" height="4" fill="#111"/></g>
<g id="t-in-tc2"><rect class="gb" style="fill:#fff;stroke:#777" x="387" y="453" width="26" height="10"/><text class="c s" x="400" y="459.4">Texcoord</text></g>
<g id="t-in-tex2"><rect class="gb" style="fill:#fff;stroke:#777" x="387" y="481" width="26" height="10"/><text class="c s" x="400" y="487.4">Texture</text></g>
<g id="t-lodbias"><rect class="kb" x="439" y="533" width="38" height="19" rx="5"/><text class="c" x="458" y="539.3">LOD Bias and</text><text class="c" x="458" y="543.6">clamping</text><text class="c" x="458" y="547.9">(8.14.1)</text><rect x="435" y="539" width="4" height="4" fill="#111"/></g>
<g id="t-in-samp"><rect class="gb" style="fill:#fff;stroke:#777" x="387" y="536" width="26" height="10"/><text class="c s" x="400" y="542.4">Sampler</text></g>
<g id="t-texlevel"><rect class="kb" x="438" y="564" width="39" height="15"/><text class="c" x="457.5" y="572.9">Texture Level</text></g>
<g id="t-complete"><rect class="kb" x="439" y="591" width="38" height="18" rx="5"/><text class="c" x="458" y="596.8">Texture</text><text class="c" x="458" y="601.1">completeness</text><text class="c" x="458" y="605.4">(8.17)</text><rect x="435" y="596" width="4" height="4" fill="#111"/></g>
<g id="t-rgba"><rect class="kb" x="588" y="610" width="44" height="14"/><text class="c" x="610" y="618.4">rgba(0, 0, 0, 1)</text></g>
<g id="t-fetch"><rect class="kb" x="592" y="360" width="40" height="19" rx="5"/><text class="c" x="612" y="368.6">Fetches</text><text class="c" x="612" y="372.9">(11.1.3.2)</text><rect x="596" y="355" width="4" height="5" fill="#111"/><rect x="620" y="355" width="4" height="5" fill="#111"/></g>
<g id="t-texels"><rect class="kb" x="592" y="391" width="40" height="14"/><text class="c" x="612" y="399.4">Texels</text></g>
<g id="t-srgb"><rect class="kb" x="569" y="436" width="39" height="26" rx="5"/><text class="c" x="588.5" y="443.6">sRGB Texture</text><text class="c" x="588.5" y="447.9">Color</text><text class="c" x="588.5" y="452.2">Conversion</text><text class="c" x="588.5" y="456.5">(8.23)</text></g>
<g id="t-depthcmp"><rect class="kb" x="615" y="436" width="39" height="20" rx="5"/><text class="c" x="634.5" y="442.8">Depth</text><text class="c" x="634.5" y="447.1">Comparison</text><text class="c" x="634.5" y="451.4">(8.22.1)</text><rect x="654" y="442" width="4" height="4" fill="#111"/></g>
<g id="t-minif"><rect class="kb" x="569" y="518" width="39" height="17" rx="5"/><text class="c" x="588.5" y="525.6">Minification</text><text class="c" x="588.5" y="529.9">(8.14)</text><rect x="574" y="513" width="4" height="5" fill="#111"/></g>
<g id="t-magnif"><rect class="kb" x="615" y="518" width="39" height="17" rx="5"/><text class="c" x="634.5" y="525.6">Magnification</text><text class="c" x="634.5" y="529.9">(8.15)</text><rect x="644" y="513" width="4" height="5" fill="#111"/></g>
<g id="t-imgsample"><rect class="kb" x="592" y="562" width="40" height="14"/><text class="c" x="612" y="570.4">Image Sample</text></g>
<g id="t-expand"><rect class="kb" x="592" y="587" width="40" height="19" rx="5"/><text class="c" x="612" y="595.6">Expand to RGBA</text><text class="c" x="612" y="599.9">(8.6.4.3)</text></g>
<g id="t-details"><rect class="kb" x="708" y="341" width="38" height="19" rx="5"/><text class="c" x="727" y="349.6">Details</text><text class="c" x="727" y="353.9">(15.2.1)</text><rect x="746" y="349" width="4" height="4" fill="#111"/></g>
<g id="t-sampler"><rect class="gb" style="fill:#fff;stroke:#777" x="790" y="346" width="28" height="11"/><text class="c s" x="804" y="352.9">Sampler</text></g>
<g id="t-imgsamples"><rect class="kb" x="746" y="391" width="39" height="15"/><text class="c" x="765.5" y="399.9">Image Samples</text></g>
<g id="t-mip"><rect class="kb" x="746" y="418" width="39" height="19" rx="5"/><text class="c" x="765.5" y="426.6">Mipmapping</text><text class="c" x="765.5" y="430.9">(8.14.3)</text></g>
<g id="t-anisamp"><rect class="kb" x="746" y="487" width="39" height="15"/><text class="c" x="765.5" y="493.6">Anisotropic</text><text class="c" x="765.5" y="497.9">Samples</text></g>
<g id="t-anires"><rect class="kb" x="746" y="513" width="39" height="20" rx="5"/><text class="c" x="765.5" y="522.1">Anisotropic</text><text class="c" x="765.5" y="526.4">Resolution</text></g>
<g id="t-texsample"><rect class="kb" x="708" y="610" width="37" height="14"/><text class="c" x="726.5" y="618.4">Texture Sample</text></g>
<g id="t-note2"><path d="M734,556 H792 L797,561 V602 H734Z" fill="#fff" stroke="#444" stroke-width=".7"/><path d="M792,556 V561 H797" fill="none" stroke="#444" stroke-width=".7"/><text class="s" x="736" y="562">Not part of the core</text><text class="s" x="736" y="566.5">specifications. <tspan text-decoration="underline">GL_EXT_</tspan></text><text class="s" x="736" y="571" text-decoration="underline">texture_filter_anisotropic.</text></g>

<!-- SHADING -->
<g id="s-panel"><rect x="843" y="295" width="105" height="334" rx="6" fill="none" stroke="#555" stroke-width="1"/><text class="t" x="846" y="301.5">OpenGL 4.4 Shading</text></g>
<g id="s-f1"><rect class="sb" x="865" y="306" width="42" height="19" rx="4"/><text class="c s" x="886" y="312.3">Angle and</text><text class="c s" x="886" y="316.6">Trigonometry</text><text class="c s" x="886" y="320.9">Functions (8.1)</text></g>
<g id="s-f2"><rect class="sb" x="865" y="329" width="42" height="14" rx="4"/><text class="c s" x="886" y="335.1">Exponential</text><text class="c s" x="886" y="339.4">Functions (8.2)</text></g>
<g id="s-f3"><rect class="sb" x="865" y="349" width="42" height="14" rx="4"/><text class="c s" x="886" y="355.1">Common Functions</text><text class="c s" x="886" y="359.4">(8.3)</text></g>
<g id="s-f4"><rect class="sb" x="865" y="368" width="42" height="19" rx="4"/><text class="c s" x="886" y="374.3">Floating-point pack</text><text class="c s" x="886" y="378.6">and unpack</text><text class="c s" x="886" y="382.9">Functions (8.4)</text></g>
<g id="s-f5"><rect class="sb" x="865" y="391" width="42" height="13" rx="4"/><text class="c s" x="886" y="396.6">Geometry Functions</text><text class="c s" x="886" y="400.9">(8.5)</text></g>
<g id="s-f6"><rect class="sb" x="865" y="409" width="42" height="14" rx="4"/><text class="c s" x="886" y="415.1">Matrix Functions</text><text class="c s" x="886" y="419.4">(8.6)</text></g>
<g id="s-f7"><rect class="sb" x="865" y="429" width="42" height="14" rx="4"/><text class="c s" x="886" y="435.1">Vector Relational</text><text class="c s" x="886" y="439.4">Functions (8.7)</text></g>
<g id="s-f8"><rect class="sb" x="865" y="448" width="42" height="14" rx="4"/><text class="c s" x="886" y="454.1">Integer Functions</text><text class="c s" x="886" y="458.4">(8.8)</text></g>
<g id="s-f9"><rect class="sb" x="865" y="467" width="42" height="14" rx="4"/><text class="c s" x="886" y="473.1">Texture Function</text><text class="c s" x="886" y="477.4">(8.9)</text></g>
<g id="s-f10"><rect class="sb" x="865" y="486" width="42" height="14" rx="4"/><text class="c s" x="886" y="492.1">Atomic-Counter</text><text class="c s" x="886" y="496.4">Functions (8.10)</text></g>
<g id="s-f11"><rect class="sb" x="865" y="505" width="42" height="14" rx="4"/><text class="c s" x="886" y="511.1">Image Functions</text><text class="c s" x="886" y="515.4">(8.11)</text></g>
<g id="s-f12"><rect class="sb" x="865" y="524" width="42" height="14" rx="4"/><text class="c s" x="886" y="530.1">Fragment Processing</text><text class="c s" x="886" y="534.4">Functions (8.12)</text></g>
<g id="s-f13"><rect class="sb" x="865" y="543" width="42" height="14" rx="4"/><text class="c s" x="886" y="549.1">Noise Functions</text><text class="c s" x="886" y="553.4">(8.13)</text></g>
<g id="s-f14"><rect class="sb" x="865" y="562" width="42" height="15" rx="4"/><text class="c s" x="886" y="568.6">Geometry Shader</text><text class="c s" x="886" y="572.9">Functions (8.14)</text></g>
<g id="s-f15"><rect class="sb" x="865" y="582" width="42" height="19" rx="4"/><text class="c s" x="886" y="588.3">Shader Invocation</text><text class="c s" x="886" y="592.6">Control Functions</text><text class="c s" x="886" y="596.9">(8.15)</text></g>
<g id="s-f16"><rect class="sb" x="865" y="606" width="42" height="19" rx="4"/><text class="c s" x="886" y="612.3">Shader Memory</text><text class="c s" x="886" y="616.6">Control Functions</text><text class="c s" x="886" y="620.9">(8.16)</text></g>
<g id="s-l1"><rect class="gb" x="823" y="434" width="39" height="10"/><text class="c s" x="842.5" y="440.2">Pragma</text></g>
<g id="s-l2"><rect class="gb" x="823" y="449" width="39" height="11"/><text class="c s" x="842.5" y="455.7">Built-in</text></g>
<g id="s-l3"><rect class="gb" x="823" y="465" width="39" height="10"/><text class="c s" x="842.5" y="471.2">Input</text></g>
<g id="s-l4"><rect class="gb" x="823" y="481" width="39" height="10"/><text class="c s" x="842.5" y="487.2">Constant</text></g>
<g id="s-l5"><rect class="gb" x="823" y="496" width="39" height="11"/><text class="c s" x="842.5" y="502.7">Uniform buffer</text></g>
<g id="s-l6"><rect class="gb" x="823" y="512" width="39" height="10"/><text class="c s" x="842.5" y="518.2">Sampler</text></g>
<g id="s-l7"><rect class="gb" x="823" y="527" width="39" height="10"/><text class="c s" x="842.5" y="533.2">Texture</text></g>
<g id="s-l8"><rect class="gb" x="823" y="543" width="39" height="10"/><text class="c s" x="842.5" y="549.2">Image</text></g>
<g id="s-l9"><rect class="gb" x="823" y="558" width="39" height="10"/><text class="c s" x="842.5" y="564.2">Atomic Counter</text></g>
<g id="s-l10"><rect class="gb" x="823" y="571" width="39" height="11"/><text class="c s" x="842.5" y="577.7">Subroutine</text></g>
<g id="s-r1"><rect class="gb" x="924" y="427" width="28" height="11"/><text class="c s" x="938" y="433.7">Built-in</text></g>
<g id="s-r2"><rect class="gb" x="924" y="443" width="28" height="12"/><text class="c s" x="938" y="450.2">Output</text></g>
<g id="s-r3"><rect class="gb" x="924" y="458" width="28" height="12"/><text class="c s" x="938" y="465.2">Image</text></g>
<g id="s-r4"><rect class="gb" x="924" y="473" width="28" height="14"/><text class="c s" x="938" y="479.2">Atomic</text><text class="c s" x="938" y="483.4">Counter</text></g>
</svg>
